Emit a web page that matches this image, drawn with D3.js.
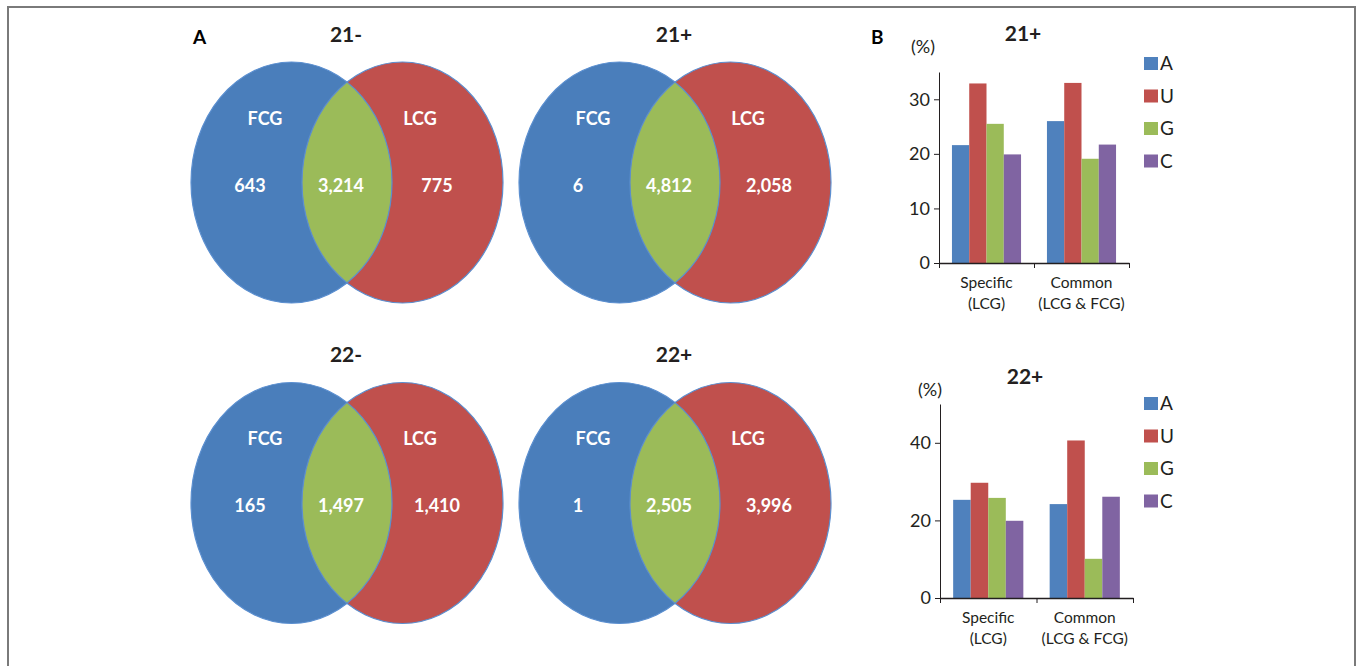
<!DOCTYPE html>
<html>
<head>
<meta charset="utf-8">
<script src="https://cdn.jsdelivr.net/npm/d3@7"></script>
<style>
body { margin: 0; background: #fff; }
text { font-family: Lato, "Open Sans", sans-serif; }
</style>
</head>
<body>
<svg width="1360" height="666"></svg>
<script>
// venn panels
var vennTitles = ["21-", "21+", "22-", "22+"];
var fcgOnly = ["643", "6", "165", "1"];
var shared = ["3,214", "4,812", "1,497", "2,505"];
var lcgOnly = ["775", "2,058", "1,410", "3,996"];

// bar panels
var groups = ["Specific", "Common"];
var groupLines = [["Specific", "(LCG)"], ["Common", "(LCG & FCG)"]];
var bases = ["A", "U", "G", "C"];
var pct21 = [[21.6, 32.9, 25.5, 19.9], [26.0, 33.0, 19.1, 21.7]];
var pct22 = [[25.3, 29.7, 25.8, 19.9], [24.2, 40.6, 10.1, 26.1]];

var barColor = d3.scaleOrdinal().domain(bases).range(["#4F81BD", "#C0504D", "#9BBB59", "#8064A2"]);

var svg = d3.select('svg');

// frame
svg.append('path')
    .attr('d', 'M8,666 L8,7 L1355,7 L1355,666')
    .attr('fill', 'none')
    .attr('stroke', '#7a7a7a')
    .attr('stroke-width', 2);

svg.append('text').text('A').attr('x', 193).attr('y', 44)
    .attr('font-size', 19).attr('font-weight', 'bold').attr('font-family', 'Liberation Sans, Arial');
svg.append('text').text('B').attr('x', 871).attr('y', 44)
    .attr('font-size', 19).attr('font-weight', 'bold').attr('font-family', 'Liberation Sans, Arial');

// venn layout
var colX = d3.scalePoint().domain(["-", "+"]).range([347, 675]);
var rowY = d3.scalePoint().domain(["21", "22"]).range([182.5, 503]);
var rx = 100.5, ry = 120.5, off = 55.5;

vennTitles.forEach(function(t, i){
    var cx = colX(t.slice(2)), cy = rowY(t.slice(0, 2));
    var g = svg.append('g');

    g.append('clipPath').attr('id', 'clip' + i)
        .append('ellipse')
        .attr('cx', cx - off).attr('cy', cy).attr('rx', rx).attr('ry', ry);

    g.append('ellipse')
        .attr('cx', cx - off).attr('cy', cy).attr('rx', rx).attr('ry', ry)
        .attr('fill', '#4A7EBB');
    g.append('ellipse')
        .attr('cx', cx + off).attr('cy', cy).attr('rx', rx).attr('ry', ry)
        .attr('fill', '#C0504D');
    g.append('ellipse')
        .attr('cx', cx + off).attr('cy', cy).attr('rx', rx).attr('ry', ry)
        .attr('fill', '#9BBB59')
        .attr('clip-path', 'url(#clip' + i + ')');
    g.selectAll('.outline')
        .data([-off, off])
        .enter()
        .append('ellipse')
        .attr('cx', function(d){ return cx + d; })
        .attr('cy', cy).attr('rx', rx).attr('ry', ry)
        .attr('fill', 'none')
        .attr('stroke', '#5b8fd0')
        .attr('stroke-width', 1.2);

    g.append('text').text(t)
        .attr('x', cx - 1).attr('y', cy - 141)
        .attr('font-size', 21).attr('font-weight', 'bold').attr('fill', '#231f20')
        .style('text-anchor', 'middle');

    var labels = [
        {t: 'FCG', x: -82, y: -58},
        {t: 'LCG', x: 73, y: -58},
        {t: fcgOnly[i], x: -97, y: 9},
        {t: shared[i], x: -6, y: 9},
        {t: lcgOnly[i], x: i % 2 == 0 ? 90 : 94, y: 9}
    ];
    g.selectAll('.lab')
        .data(labels)
        .enter()
        .append('text')
        .text(function(d){ return d.t; })
        .attr('x', function(d){ return cx + d.x; })
        .attr('y', function(d){ return cy + d.y; })
        .attr('font-size', 18).attr('font-weight', 'bold').attr('fill', '#fff')
        .style('text-anchor', 'middle');
});

// bar charts
function drawBars(values, opts){
    var g = svg.append('g');
    var scaleY = d3.scaleLinear().domain([0, opts.max]).range([opts.y0, opts.yTop]);
    var scaleX = d3.scaleBand().domain(groups).range([opts.x0, opts.x1]);
    var inner = d3.scaleBand().domain(bases).range([0, scaleX.bandwidth()]).paddingOuter(0.75);

    g.append('g')
        .attr('transform', 'translate(' + opts.x0 + ',0)')
        .call(d3.axisLeft(scaleY).tickValues(opts.ticks).tickSize(5).tickSizeOuter(0))
        .call(function(a){
            a.selectAll('text').attr('font-size', 18).attr('fill', '#231f20').attr('dx', -1)
                .style('font-family', 'Lato, sans-serif');
            a.selectAll('line').attr('stroke', '#231f20');
            a.select('.domain').attr('stroke', '#231f20');
        });

    groups.forEach(function(grp, gi){
        g.selectAll('.bar' + gi)
            .data(values[gi])
            .enter()
            .append('rect')
            .attr('x', function(d, j){ return scaleX(grp) + inner(bases[j]); })
            .attr('width', inner.bandwidth())
            .attr('y', function(d){ return scaleY(d); })
            .attr('height', function(d){ return scaleY(0) - scaleY(d); })
            .attr('fill', function(d, j){ return barColor(bases[j]); });
    });

    var edges = d3.scaleLinear().domain([0, 2]).range([opts.x0, opts.x1]);
    g.append('g')
        .attr('transform', 'translate(0,' + opts.y0 + ')')
        .call(d3.axisBottom(edges).tickValues([0, 1, 2]).tickFormat('').tickSize(5).tickSizeOuter(0))
        .call(function(a){
            a.selectAll('line').attr('stroke', '#231f20');
            a.select('.domain').attr('stroke', '#231f20').attr('stroke-width', 1.5);
        });

    groups.forEach(function(grp, gi){
        g.selectAll('.cat' + gi)
            .data(groupLines[gi])
            .enter()
            .append('text')
            .text(function(d){ return d; })
            .attr('x', scaleX(grp) + scaleX.bandwidth() / 2)
            .attr('y', function(d, k){ return opts.y0 + 25 + k * 21; })
            .attr('font-size', 15.5).attr('fill', '#231f20')
            .style('text-anchor', 'middle');
    });

    g.append('text').text(opts.title)
        .attr('x', opts.titleX).attr('y', opts.titleY)
        .attr('font-size', 21).attr('font-weight', 'bold').attr('fill', '#231f20')
        .style('text-anchor', 'middle');
    g.append('text').text('(%)')
        .attr('x', opts.pctX).attr('y', opts.titleY + 12)
        .attr('font-size', 18).attr('fill', '#231f20')
        .style('text-anchor', 'middle');

    var legend = g.selectAll('.leg')
        .data(bases)
        .enter()
        .append('g')
        .attr('transform', function(d, j){ return 'translate(1144,' + (opts.legY + j * 32.5) + ')'; });
    legend.append('rect')
        .attr('width', 14).attr('height', 13)
        .attr('fill', function(d){ return barColor(d); });
    legend.append('text')
        .text(function(d){ return d; })
        .attr('x', 16).attr('y', 13)
        .attr('font-size', 19).attr('fill', '#231f20');
}

drawBars(pct21, {max: 35, ticks: [0, 10, 20, 30], y0: 263, yTop: 72, x0: 939, x1: 1129,
    title: '21+', titleX: 1023, titleY: 41, pctX: 923, legY: 57});
drawBars(pct22, {max: 50, ticks: [0, 20, 40], y0: 598, yTop: 404, x0: 940, x1: 1133,
    title: '22+', titleX: 1025, titleY: 384, pctX: 930, legY: 397});
</script>
</body>
</html>
